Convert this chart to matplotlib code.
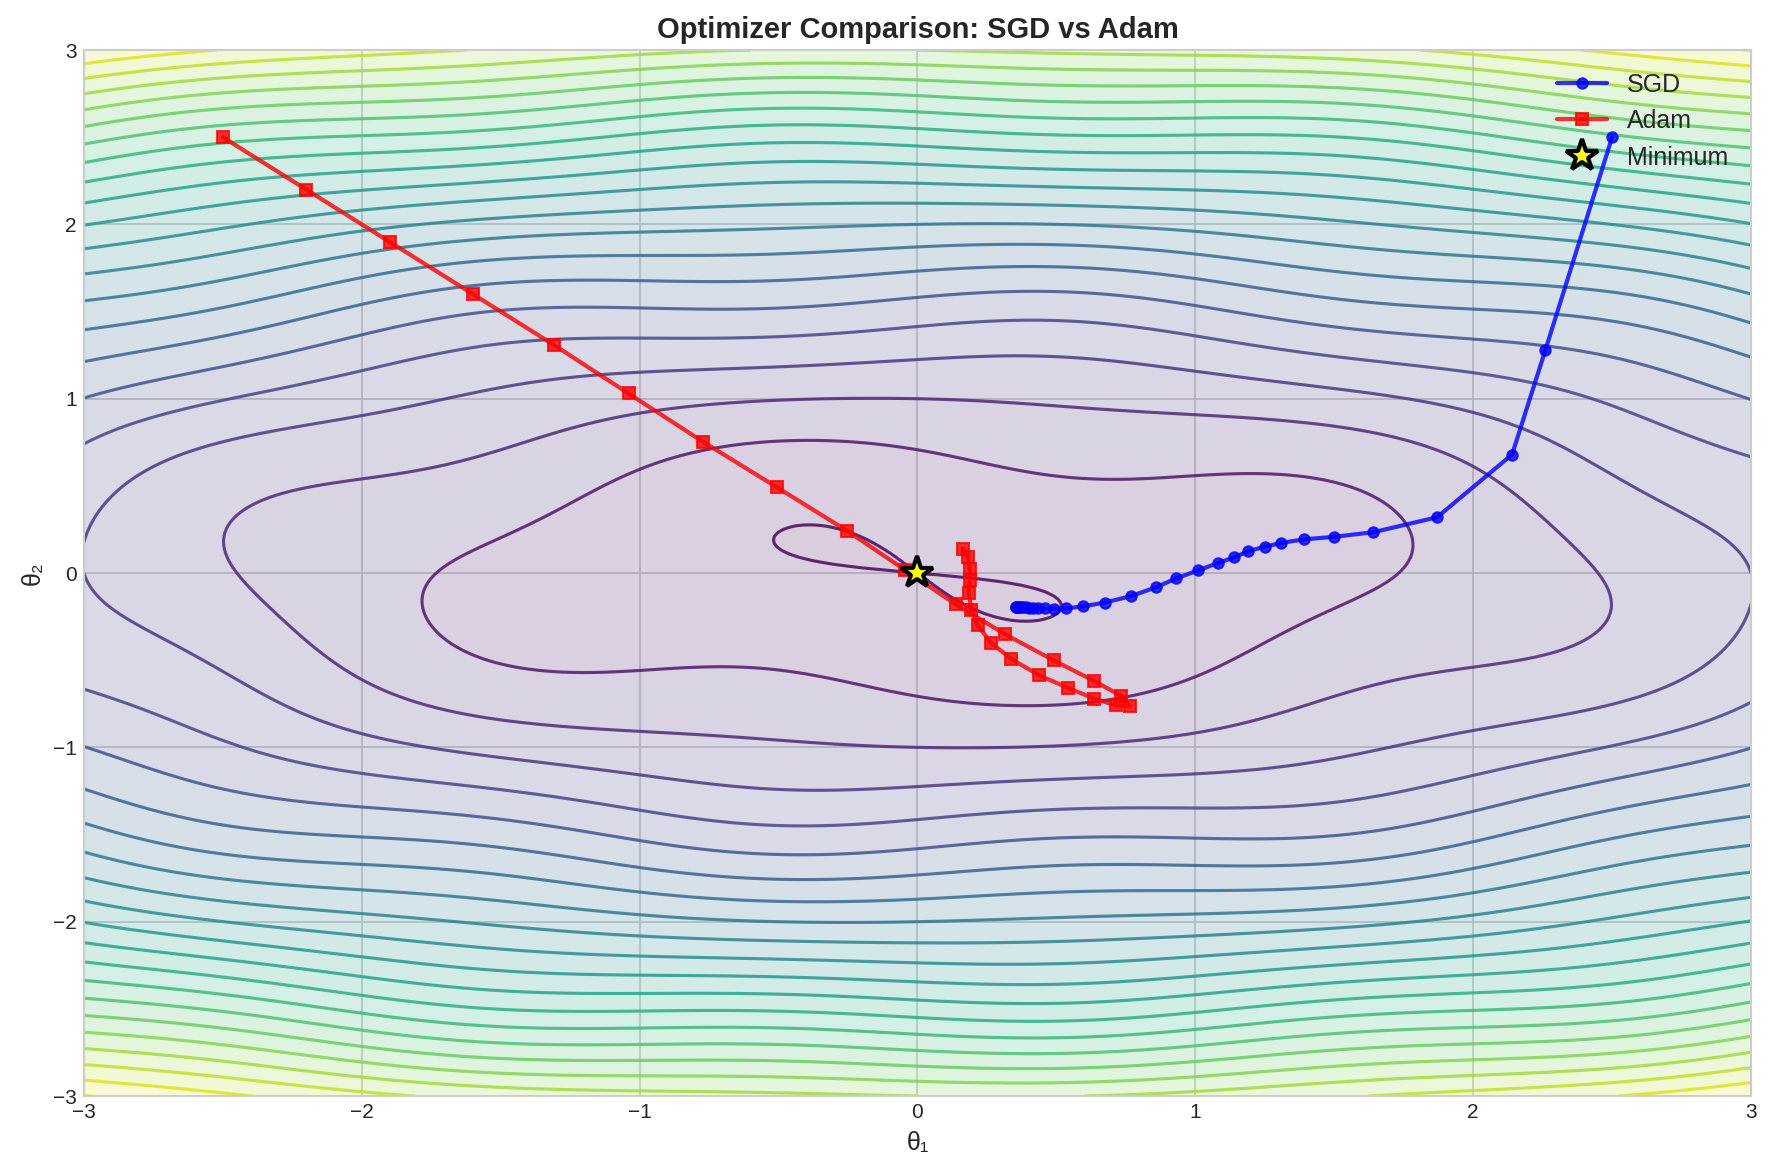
import numpy as np
import matplotlib.pyplot as plt

# Optimizer paths
sgd_x = [2.50, 2.26, 2.14, 1.87, 1.64, 1.50, 1.39, 1.31, 1.25, 1.19, 1.14, 1.08,
         1.01, 0.932, 0.858, 0.767, 0.675, 0.596, 0.536, 0.492, 0.458, 0.434,
         0.416, 0.402, 0.390, 0.380, 0.371, 0.365, 0.361, 0.358, 0.356, 0.355]
sgd_y = [2.50, 1.28, 0.68, 0.32, 0.234, 0.208, 0.193, 0.173, 0.151, 0.125, 0.09, 0.057,
         0.015, -0.03, -0.082, -0.133, -0.169, -0.191, -0.203, -0.204, -0.203, -0.200,
         -0.199, -0.198, -0.197, -0.196, -0.196, -0.195, -0.195, -0.195, -0.195, -0.195]

adam_x = [-2.50, -2.20, -1.90, -1.60, -1.31, -1.04, -0.773, -0.505, -0.254, -0.046,
          0.138, 0.314, 0.490, 0.637, 0.734, 0.764, 0.714, 0.637, 0.540, 0.436,
          0.338, 0.266, 0.216, 0.194, 0.184, 0.188, 0.188, 0.182, 0.162]
adam_y = [2.50, 2.20, 1.90, 1.60, 1.31, 1.03, 0.754, 0.491, 0.243, 0.019,
          -0.180, -0.350, -0.501, -0.620, -0.706, -0.763, -0.759, -0.721, -0.658, -0.585,
          -0.493, -0.402, -0.300, -0.210, -0.115, -0.038, 0.025, 0.092, 0.140]

min_point = (0.0, 0.0)


def loss(x, y):
    # elongated bowl with a small wavy coupling term
    return x ** 2 / 6 + y ** 2 + 0.15 * np.sin(3 * x) * np.sin(3 * y)


plt.style.use("seaborn-v0_8-whitegrid")
plt.rcParams["font.family"] = ["Liberation Sans", "DejaVu Sans"]

grid = np.linspace(-3, 3, 300)
X, Y = np.meshgrid(grid, grid)
Z = loss(X, Y)

fig = plt.figure(figsize=(1775 / 150, 1175 / 150), dpi=150)
ax = fig.add_subplot(111)
fig.subplots_adjust(left=0.0473, right=0.9865, top=0.9574, bottom=0.0672)

# contour levels every 0.5
ax.contourf(X, Y, Z, levels=np.arange(-0.5, 11.01, 0.5), cmap="viridis", alpha=0.2)
ax.contour(X, Y, Z, levels=np.arange(0, 10.51, 0.5), cmap="viridis", alpha=0.8,
           linewidths=1.5)

ax.plot(sgd_x, sgd_y, "b-o", markersize=5, linewidth=2, alpha=0.8, label="SGD")
ax.plot(adam_x, adam_y, "r-s", markersize=6, linewidth=2, alpha=0.8, label="Adam")
ax.plot(*min_point, "*", color="yellow", markersize=16, markeredgecolor="black",
        markeredgewidth=2, label="Minimum")

ax.set_xlim(-3, 3)
ax.set_ylim(-3, 3)
ax.set_xlabel("θ₁", fontsize=12)
ax.set_ylabel("θ₂", fontsize=12)
ax.set_title("Optimizer Comparison: SGD vs Adam", fontsize=14, fontweight="bold")
ax.legend(loc="upper right", fontsize=12)

fig.savefig("out.png", dpi=150)
